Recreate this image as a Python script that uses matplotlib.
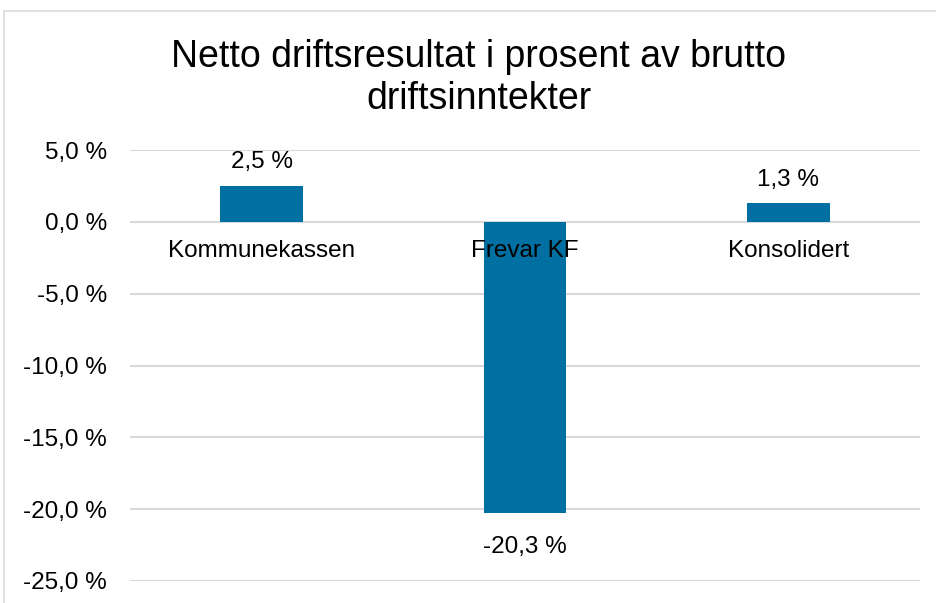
import matplotlib
matplotlib.use("Agg")
import matplotlib.pyplot as plt
from matplotlib.patches import Rectangle

categories = ["Kommunekassen", "Frevar KF", "Konsolidert"]
values = [2.5, -20.3, 1.3]
yticks = [5, 0, -5, -10, -15, -20, -25]
title = "Netto driftsresultat i prosent av brutto\ndriftsinntekter"

plt.rcParams['font.family'] = ['Liberation Sans', 'DejaVu Sans']

W, H = 937, 603
fig = plt.figure(figsize=(W/100, H/100), dpi=100)
# axes: x 130..920, y 150..581 (pixels from top)
ax = fig.add_axes([130/W, 1-581/H, 790/W, 431/H])

FS = 17.5
color = "#006FA1"
x = list(range(len(categories)))
ax.bar(x, values, width=0.315, color=color, zorder=3)
ax.set_xlim(-0.5, 2.5)
ax.set_ylim(-25, 5)
ax.set_yticks(yticks)
ax.set_yticklabels([f"{v:.1f} %".replace(".", ",") for v in yticks], fontsize=FS)
ax.tick_params(axis='y', length=0, pad=16.5)
ax.set_xticks([])
ax.grid(axis='y', color="#D9D9D9", linewidth=1.5, zorder=0)
for s in ax.spines.values():
    s.set_visible(False)

for xi, v, c in zip(x, values, categories):
    if v >= 0:
        ax.annotate(f"{v:.1f} %".replace(".", ","), (xi, v), xytext=(0, 17), textcoords="offset points",
                    ha="center", va="center", fontsize=FS)
    else:
        ax.annotate(f"{v:.1f} %".replace(".", ","), (xi, v), xytext=(0, -24), textcoords="offset points",
                    ha="center", va="center", fontsize=FS)
    ax.annotate(c, (xi, 0), xytext=(0, -21), textcoords="offset points",
                ha="center", va="center", fontsize=FS, zorder=5)

fig.text(479/W, 1-78/H, title, ha="center", va="center", fontsize=27, linespacing=1.2)

fig.add_artist(Rectangle((4/W, -0.1), 1.1, 1.1 - 11/H + 0.0, transform=fig.transFigure,
                         fill=False, edgecolor="#D9D9D9", linewidth=1.2))

fig.savefig("out.png", dpi=100)
